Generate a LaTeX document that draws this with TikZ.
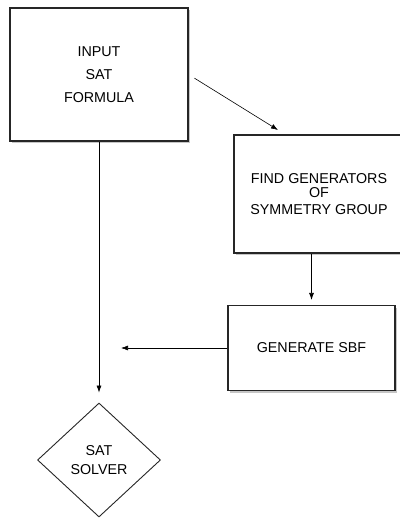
\documentclass[tikz,border=0pt]{standalone}
\usepackage{fontspec}
\setmainfont{Liberation Sans}
\usetikzlibrary{arrows.meta,calc,shapes.geometric,shadows}
\tikzset{
	stepbox/.style={
			draw=black!85, line width=1.1pt, fill=white, align=center,
			drop shadow={shadow xshift=1.5pt, shadow yshift=-2pt, opacity=0.45}
		},
	decision/.style={
			diamond, draw=black!85, line width=0.9pt, fill=white, align=center,
			inner sep=0pt
		},
	flow/.style={-{Latex[length=7pt, width=5pt]}, line width=0.6pt}
}

\begin{document}
\begin{tikzpicture}[x=1pt, y=-1pt, font=\fontsize{14.3}{17}\selectfont]
		% Fix the page to the size of the reference
		\useasboundingbox (0,0) rectangle (399,518);

		% Draw the input box
		\node[stepbox, minimum width=178pt, minimum height=133pt] (input) at (99,74.5)
			{INPUT\\[6pt]SAT\\[6pt]FORMULA};

		% Draw the box for the generators (runs past the right edge)
		\node[stepbox, minimum width=170pt, minimum height=118pt] (find) at (319,194)
			{FIND GENERATORS\\[-3pt]OF\\[0pt]SYMMETRY GROUP};

		% Draw the box for the SBF
		\node[stepbox, minimum width=167pt, minimum height=85pt] (gen) at (311.5,348)
			{GENERATE SBF};

		% Draw the solver as a diamond
		\node[decision, minimum width=123pt, minimum height=114pt] (solver) at (99,460)
			{SAT\\[2pt]SOLVER};

		% Free end of the arrow into the generators box
		\coordinate (findin) at (278,130);

		% Draw the connectors
		\draw[flow, shorten <=7pt] (input.east) -- (findin);
		\draw[flow, shorten >=5pt] (find.south -| gen.north) -- (gen.north);
		\draw[flow, shorten >=22pt] (gen.west) -- (gen.west -| solver.north);
		\draw[flow, shorten >=10pt] (input.south) -- (solver.north);
	\end{tikzpicture}
\end{document}
